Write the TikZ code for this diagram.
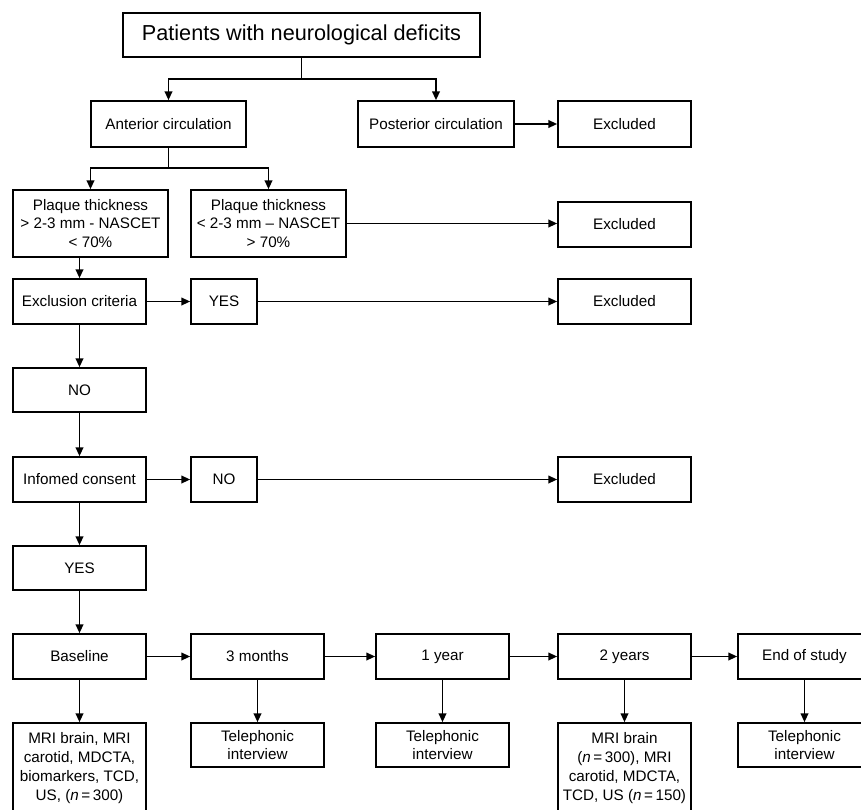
\documentclass[tikz,border=0pt]{standalone}
\usepackage{fontspec}
\setmainfont{Liberation Sans}
\usetikzlibrary{arrows.meta}

\begin{document}
\begin{tikzpicture}[x=0.03cm,y=-0.03cm]
        \tikzstyle{every node}=[font=\fontsize{13}{16}\selectfont]
        \tikzstyle{box}=[draw,line width=1.4pt,align=center,inner sep=0pt,minimum width=3.99cm,minimum height=1.35cm]
        \tikzstyle{widebox}=[box,minimum width=4.65cm]
        \tikzstyle{smallbox}=[box,minimum width=1.98cm]
        \tikzstyle{conn}=[line width=1.4pt]
        \tikzstyle{arr}=[conn,-{Triangle[length=7.5pt,width=6.5pt]}]
        \path[use as bounding box,clip] (0,0) rectangle (861,810);
        \node[box,minimum width=10.71cm,minimum height=1.32cm,font=\fontsize{18.5}{22}\selectfont] (patients) at (301.5,35) {Patients with neurological deficits};
        \node[widebox,minimum height=1.38cm] (anterior) at (168.5,124) {Anterior circulation};
        \node[widebox,minimum width=4.68cm,minimum height=1.38cm] (posterior) at (436,124) {Posterior circulation};
        \node[box,minimum height=1.38cm] (excl1) at (624.5,124) {Excluded};
        \node[widebox,minimum height=2.01cm] (plaqueA) at (90.5,223.5) {Plaque thickness\\> 2-3 mm - NASCET\\< 70\%};
        \node[widebox,minimum height=2.01cm] (plaqueB) at (268.5,223.5) {Plaque thickness\\< 2-3 mm -- NASCET\\> 70\%};
        \node[box] (excl2) at (624.5,224.5) {Excluded};
        \node[box] (criteria) at (79.5,301.5) {Exclusion criteria};
        \node[smallbox] (yesA) at (224,301.5) {YES};
        \node[box] (excl3) at (624.5,301.5) {Excluded};
        \node[box,minimum height=1.32cm] (noA) at (79.5,390) {NO};
        \node[box] (consent) at (79.5,479.5) {Infomed consent};
        \node[smallbox] (noB) at (224,479.5) {NO};
        \node[box] (excl4) at (624.5,479.5) {Excluded};
        \node[box,minimum height=1.32cm] (yesB) at (79.5,568) {YES};
        \node[box] (baseline) at (79.5,656.5) {Baseline};
        \node[box] (month3) at (257.5,656.5) {3 months};
        \node[box] (year1) at (442.5,656.5) {1 year};
        \node[box] (year2) at (624.5,656.5) {2 years};
        \node[box] (endstudy) at (804.5,656.5) {End of study};
        \node[box,minimum height=2.7cm] (examA) at (79.5,768) {MRI brain, MRI\\carotid, MDCTA,\\biomarkers, TCD,\\US, (\textit{n}\,=\,300)};
        \node[box,minimum height=1.32cm] (callA) at (257.5,745) {Telephonic\\interview};
        \node[box,minimum height=1.32cm] (callB) at (442.5,745) {Telephonic\\interview};
        \node[box,minimum height=2.7cm] (examB) at (624.5,768) {MRI brain\\(\textit{n}\,=\,300), MRI\\carotid, MDCTA,\\TCD, US (\textit{n}\,=\,150)};
        \node[box,minimum height=1.32cm] (callC) at (804.5,745) {Telephonic\\interview};
        \coordinate (splitA) at (301.5,79);
        \coordinate (splitB) at (168.5,168);
        \draw[conn] (patients) -- (splitA);
        \draw[arr] (splitA) -| (anterior);
        \draw[arr] (splitA) -| (posterior);
        \draw[arr] (posterior) -- (excl1);
        \draw[conn] (anterior) -- (splitB);
        \draw[arr] (splitB) -| (plaqueA);
        \draw[arr] (splitB) -| (plaqueB);
        \draw[arr] (plaqueB) -- (plaqueB -| excl2.west);
        \draw[arr] (plaqueA.south -| criteria) -- (criteria);
        \foreach \a/\b in {criteria/yesA, yesA/excl3, criteria/noA, noA/consent, consent/noB, noB/excl4, consent/yesB, yesB/baseline}
            \draw[arr] (\a) -- (\b);
        \foreach \a/\b in {baseline/month3, month3/year1, year1/year2, year2/endstudy}
            \draw[arr] (\a) -- (\b);
        \foreach \a/\b in {baseline/examA, month3/callA, year1/callB, year2/examB, endstudy/callC}
            \draw[arr] (\a) -- (\b);
\end{tikzpicture}
\end{document}
